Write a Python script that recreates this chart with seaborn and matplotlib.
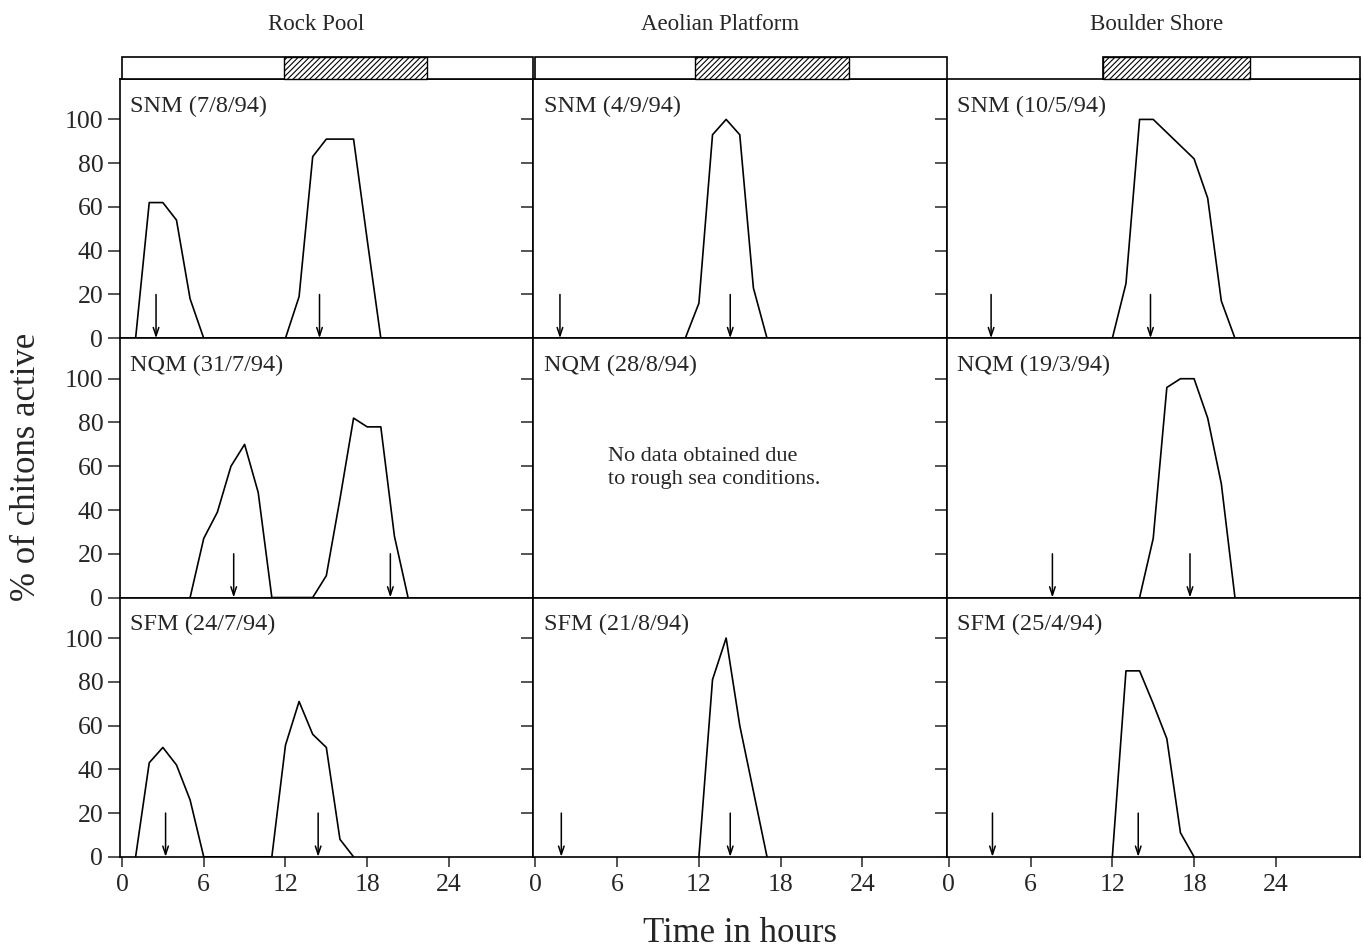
import matplotlib
matplotlib.use("Agg")
import matplotlib.pyplot as plt
import seaborn as sns

# Sites (columns) and survey types (rows)
sites = ["Rock Pool", "Aeolian Platform", "Boulder Shore"]
row_codes = ["SNM", "NQM", "SFM"]
dates = [["7/8/94", "4/9/94", "10/5/94"],
         ["31/7/94", "28/8/94", "19/3/94"],
         ["24/7/94", "21/8/94", "25/4/94"]]

# Percentage of chitons active against time (h)
rp_snm_hours = [1, 2, 3, 4, 5, 6, 12, 13, 14, 15, 16, 17, 18, 19]
rp_snm_pct = [0, 62, 62, 54, 18, 0, 0, 19, 83, 91, 91, 91, 45, 0]
ap_snm_hours = [11, 12, 13, 14, 15, 16, 17]
ap_snm_pct = [0, 16, 93, 100, 93, 23, 0]
bs_snm_hours = [12, 13, 14, 15, 16, 17, 18, 19, 20, 21]
bs_snm_pct = [0, 25, 100, 100, 94, 88, 82, 64, 17, 0]

rp_nqm_hours = [5, 6, 7, 8, 9, 10, 11, 14, 15, 16, 17, 18, 19, 20, 21]
rp_nqm_pct = [0, 27, 39, 60, 70, 48, 0, 0, 10, 45, 82, 78, 78, 28, 0]
bs_nqm_hours = [14, 15, 16, 17, 18, 19, 20, 21]
bs_nqm_pct = [0, 27, 96, 100, 100, 82, 52, 0]

rp_sfm_hours = [1, 2, 3, 4, 5, 6, 11, 12, 13, 14, 15, 16, 17]
rp_sfm_pct = [0, 43, 50, 42, 26, 0, 0, 51, 71, 56, 50, 8, 0]
ap_sfm_hours = [12, 13, 14, 15, 16, 17]
ap_sfm_pct = [0, 81, 100, 60, 30, 0]
bs_sfm_hours = [12, 13, 14, 15, 16, 17, 18]
bs_sfm_pct = [0, 85, 85, 70, 54, 11, 0]

# Low tide times (arrows)
rp_tides = [[2.5, 14.5], [8.2, 19.7], [3.2, 14.4]]
ap_tides = [[1.8, 14.3], [], [1.9, 14.3]]
bs_tides = [[3.1, 14.8], [7.6, 17.7], [3.2, 13.9]]

# Night (hatched) period per site, and where the light/dark bar starts
night_start = [11.9, 11.7, 11.3]
night_end = [22.4, 23.0, 22.1]
bar_start = [0, 0, 11.3]

x_ticks = [0, 6, 12, 18, 24]
y_ticks = [0, 20, 40, 60, 80, 100]

panels = {
    (0, 0): (rp_snm_hours, rp_snm_pct), (0, 1): (ap_snm_hours, ap_snm_pct),
    (0, 2): (bs_snm_hours, bs_snm_pct),
    (1, 0): (rp_nqm_hours, rp_nqm_pct), (1, 1): None,
    (1, 2): (bs_nqm_hours, bs_nqm_pct),
    (2, 0): (rp_sfm_hours, rp_sfm_pct), (2, 1): (ap_sfm_hours, ap_sfm_pct),
    (2, 2): (bs_sfm_hours, bs_sfm_pct),
}
tides = [rp_tides, ap_tides, bs_tides]

sns.set_style("ticks")
plt.rcParams["font.family"] = ["Liberation Serif", "DejaVu Serif"]
plt.rcParams["hatch.linewidth"] = 0.8

XMIN, XMAX = -0.15, 30.2
YMAX = 118.5

fig, axes = plt.subplots(3, 3, figsize=(13.63, 9.51), dpi=100)
fig.subplots_adjust(left=0.088, right=0.998, bottom=0.099, top=0.917,
                    wspace=0, hspace=0)

for i in range(3):
    for j in range(3):
        ax = axes[i, j]
        data = panels[(i, j)]
        if data is not None:
            sns.lineplot(x=data[0], y=data[1], ax=ax, color="black",
                         linewidth=1.2, sort=False)
        for t in tides[j][i]:
            ax.annotate("", xy=(t, 0), xytext=(t, 20),
                        arrowprops=dict(arrowstyle="->,head_length=0.6,head_width=0.2",
                                        color="black", lw=1.1,
                                        shrinkA=0, shrinkB=0))
        ax.text(0.025, 0.895, f"{row_codes[i]} ({dates[i][j]})",
                transform=ax.transAxes, ha="left", va="center", fontsize=17.5)
        ax.set_xlim(XMIN, XMAX)
        ax.set_ylim(0, YMAX)
        ax.set_xticks(x_ticks)
        ax.set_yticks(y_ticks)
        ax.tick_params(axis="y", direction="out", length=9, width=1.1,
                       labelsize=18.5, pad=3, labelleft=(j == 0))
        ax.tick_params(axis="x", direction="out", length=7, width=1.1,
                       labelsize=18.5, pad=5, labelbottom=(i == 2))
        ax.set_xlabel("")
        ax.set_ylabel("")
        for s in ax.spines.values():
            s.set_visible(True)
            s.set_linewidth(1.2)
            s.set_color("black")

axes[1, 1].text(0.18, 0.5, "No data obtained due\nto rough sea conditions.",
                transform=axes[1, 1].transAxes, ha="left", va="center",
                fontsize=16, linespacing=1.25)

# light/dark bars above each column
for j in range(3):
    pos = axes[0, j].get_position()
    bx = fig.add_axes([pos.x0, pos.y1, pos.width, 0.023])
    bx.barh(0, XMAX - bar_start[j], left=bar_start[j], height=1,
            color="white", edgecolor="black", linewidth=1.2, clip_on=False)
    bx.barh(0, night_end[j] - night_start[j], left=night_start[j], height=1,
            color="white", edgecolor="black", hatch="//////", linewidth=1.0,
            clip_on=False)
    bx.set_xlim(XMIN, XMAX)
    bx.set_ylim(-0.5, 0.5)
    bx.axis("off")

title_x = [316, 720, 1157]
for j, name in enumerate(sites):
    fig.text(title_x[j] / 1363, 1 - 25 / 951, name, ha="center", va="center",
             fontsize=16.5)

fig.text(740 / 1363, 1 - 933 / 951, "Time in hours", ha="center", va="center",
         fontsize=25)
fig.text(27 / 1363, 1 - 467 / 951, "% of chitons active", ha="center",
         va="center", rotation=90, fontsize=25)

fig.savefig("out.png", dpi=100)
plt.close(fig)
